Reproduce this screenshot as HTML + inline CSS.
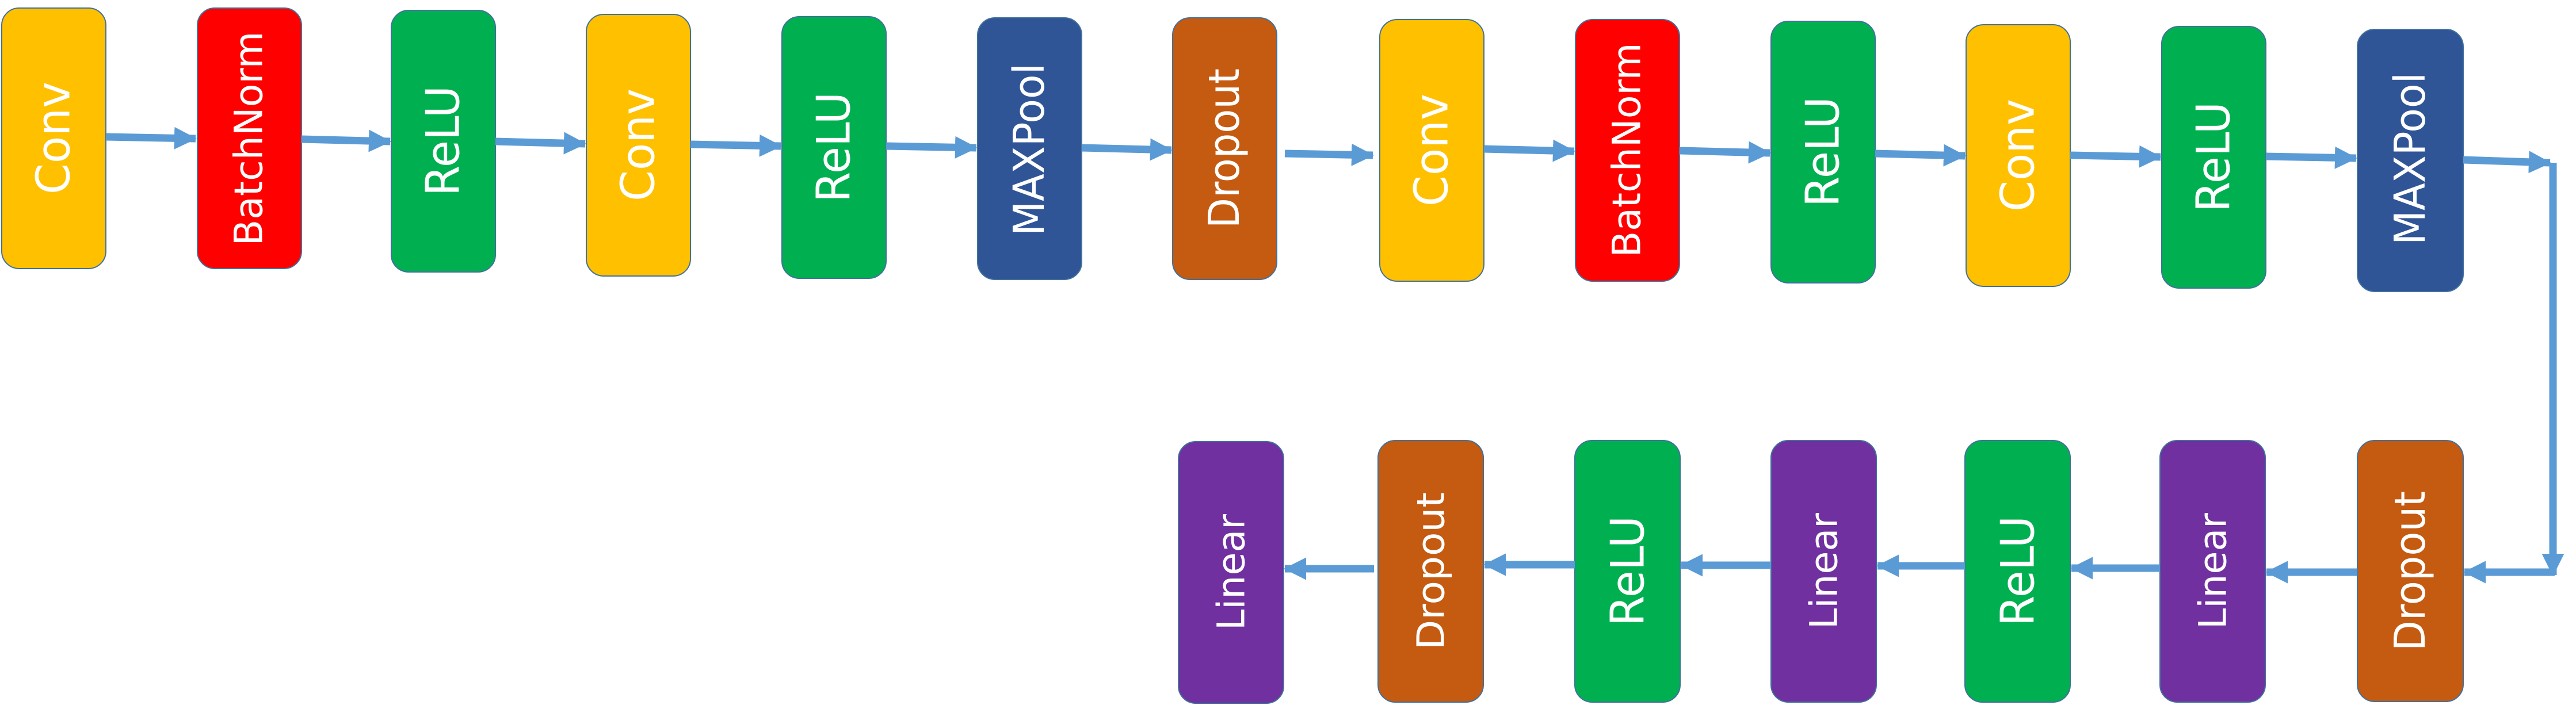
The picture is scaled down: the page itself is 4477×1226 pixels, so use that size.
<!DOCTYPE html>
<html><head><meta charset="utf-8"><style>html,body{margin:0;padding:0;background:#fff}svg{display:block}</style></head>
<body>
<svg width="4477" height="1226" viewBox="0 0 4477 1226" xmlns="http://www.w3.org/2000/svg">
<defs>
<marker id="ah" viewBox="0 0 10 10" refX="9.5" refY="5" markerWidth="3" markerHeight="3" markerUnits="strokeWidth" orient="auto">
<path d="M0,0 L10,5 L0,10 z" fill="#5B9BD5"/></marker>
</defs>
<g stroke="#41719C" stroke-width="2">
<rect x="3" y="14" width="181" height="453" rx="30" fill="#FFC000"/>
<rect x="343" y="14" width="181" height="453" rx="30" fill="#FF0000"/>
<rect x="680" y="18" width="181" height="455" rx="30" fill="#00B050"/>
<rect x="1019" y="25" width="181" height="455" rx="30" fill="#FFC000"/>
<rect x="1359" y="29" width="181" height="455" rx="30" fill="#00B050"/>
<rect x="1699" y="31" width="181" height="455" rx="30" fill="#2F5597"/>
<rect x="2038" y="31" width="181" height="455" rx="30" fill="#C55A11"/>
<rect x="2398" y="34" width="181" height="455" rx="30" fill="#FFC000"/>
<rect x="2738" y="34" width="181" height="455" rx="30" fill="#FF0000"/>
<rect x="3078" y="37" width="181" height="455" rx="30" fill="#00B050"/>
<rect x="3417" y="43" width="181" height="455" rx="30" fill="#FFC000"/>
<rect x="3757" y="46" width="181" height="455" rx="30" fill="#00B050"/>
<rect x="4097" y="51" width="184" height="456" rx="30" fill="#2F5597"/>

<rect x="2048" y="768" width="183" height="455" rx="30" fill="#7030A0"/>
<rect x="2395" y="766" width="183" height="455" rx="30" fill="#C55A11"/>
<rect x="2737" y="766" width="183" height="455" rx="30" fill="#00B050"/>
<rect x="3078" y="766" width="183" height="455" rx="30" fill="#7030A0"/>
<rect x="3415" y="766" width="183" height="455" rx="30" fill="#00B050"/>
<rect x="3754" y="766" width="183" height="455" rx="30" fill="#7030A0"/>
<rect x="4097" y="766" width="184" height="454" rx="30" fill="#C55A11"/>
</g>

<g fill="#fff" font-family="'DejaVu Sans', 'Liberation Sans', sans-serif" font-size="80" text-anchor="middle" dominant-baseline="central">
<text transform="translate(93,240) rotate(-90)" textLength="196" lengthAdjust="spacingAndGlyphs">Conv</text>
<text transform="translate(433,241) rotate(-90)" textLength="373" lengthAdjust="spacingAndGlyphs" font-size="68">BatchNorm</text>
<text transform="translate(770,245) rotate(-90)" textLength="192" lengthAdjust="spacingAndGlyphs">ReLU</text>
<text transform="translate(1109,252) rotate(-90)" textLength="196" lengthAdjust="spacingAndGlyphs">Conv</text>
<text transform="translate(1449,256) rotate(-90)" textLength="192" lengthAdjust="spacingAndGlyphs">ReLU</text>
<text transform="translate(1789,260) rotate(-90)" textLength="300" lengthAdjust="spacingAndGlyphs" font-size="74">MAXPool</text>
<text transform="translate(2128,258) rotate(-90)" textLength="278" lengthAdjust="spacingAndGlyphs" font-size="74">Dropout</text>
<text transform="translate(2488,261) rotate(-90)" textLength="196" lengthAdjust="spacingAndGlyphs">Conv</text>
<text transform="translate(2828,261) rotate(-90)" textLength="373" lengthAdjust="spacingAndGlyphs" font-size="68">BatchNorm</text>
<text transform="translate(3168,264) rotate(-90)" textLength="192" lengthAdjust="spacingAndGlyphs">ReLU</text>
<text transform="translate(3507,270) rotate(-90)" textLength="196" lengthAdjust="spacingAndGlyphs">Conv</text>
<text transform="translate(3847,273) rotate(-90)" textLength="192" lengthAdjust="spacingAndGlyphs">ReLU</text>
<text transform="translate(4189,276) rotate(-90)" textLength="300" lengthAdjust="spacingAndGlyphs" font-size="74">MAXPool</text>

<text transform="translate(2140,995) rotate(-90)" textLength="202" lengthAdjust="spacingAndGlyphs" font-size="66">Linear</text>
<text transform="translate(2487,993) rotate(-90)" textLength="274" lengthAdjust="spacingAndGlyphs" font-size="66">Dropout</text>
<text transform="translate(2829,993) rotate(-90)" textLength="192" lengthAdjust="spacingAndGlyphs">ReLU</text>
<text transform="translate(3170,993) rotate(-90)" textLength="202" lengthAdjust="spacingAndGlyphs" font-size="66">Linear</text>
<text transform="translate(3507,993) rotate(-90)" textLength="192" lengthAdjust="spacingAndGlyphs">ReLU</text>
<text transform="translate(3846,993) rotate(-90)" textLength="202" lengthAdjust="spacingAndGlyphs" font-size="66">Linear</text>
<text transform="translate(4189,993) rotate(-90)" textLength="278" lengthAdjust="spacingAndGlyphs" font-size="74">Dropout</text>
</g>

<g stroke="#5B9BD5" stroke-width="13" fill="none" marker-end="url(#ah)">
<line x1="184" y1="238" x2="340" y2="241"/>
<line x1="524" y1="242" x2="678" y2="246"/>
<line x1="861" y1="246" x2="1017" y2="250"/>
<line x1="1200" y1="251" x2="1357" y2="254"/>
<line x1="1540" y1="254" x2="1697" y2="257"/>
<line x1="1880" y1="257" x2="2036" y2="261"/>
<line x1="2233" y1="267" x2="2386" y2="270"/>
<line x1="2579" y1="259" x2="2736" y2="263"/>
<line x1="2919" y1="262" x2="3076" y2="266"/>
<line x1="3259" y1="267" x2="3415" y2="271"/>
<line x1="3598" y1="270" x2="3755" y2="273"/>
<line x1="3938" y1="272" x2="4095" y2="275"/>
<line x1="4281" y1="278" x2="4432" y2="283"/>
<line x1="4437" y1="283" x2="4437" y2="1000"/>
<line x1="4440" y1="995" x2="4283" y2="995"/>
<line x1="4097" y1="995" x2="3939" y2="995"/>
<line x1="3754" y1="988" x2="3600" y2="988"/>
<line x1="3415" y1="984" x2="3263" y2="984"/>
<line x1="3078" y1="983" x2="2922" y2="983"/>
<line x1="2737" y1="982" x2="2580" y2="982"/>
<line x1="2388" y1="989" x2="2233" y2="989"/>
</g>
</svg>
</body></html>
